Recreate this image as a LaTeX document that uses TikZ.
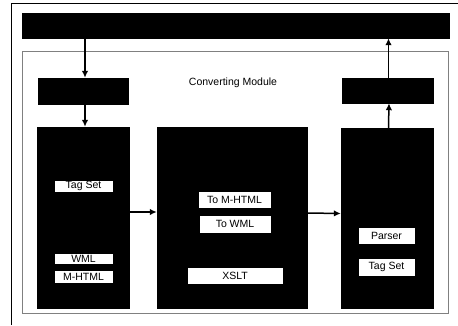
\documentclass[tikz,border=0pt]{standalone}
\usepackage{fontspec}
\setmainfont{Liberation Sans}
\usetikzlibrary{positioning, arrows.meta}

\begin{document}
\begin{tikzpicture}[x=1pt, y=-1pt,
    blk/.style={rectangle, draw=black, fill=black, inner sep=0pt},
    lbl/.style={rectangle, draw=black, fill=white, inner sep=0pt, font=\fontsize{10.5}{10.5}\selectfont},
    arr/.style={-{Latex[length=7pt, width=6.5pt]}, line width=1.5pt}]
            \useasboundingbox (0,0) rectangle (458,325);
            \draw[line width=0.8pt] (11,325) -- (11,3) -- (458,3);
            \draw[gray, line width=0.6pt] (22,51) rectangle (448,313);

            \node[blk, minimum width=427pt, minimum height=25pt] (bar) at (235.5,25.5) {};
            \node[blk, minimum width=90pt, minimum height=26pt] (inbox) at (83,91) {};
            \node[blk, minimum width=91pt, minimum height=25pt] (outbox) at (387.5,90.5) {};
            \node[font=\fontsize{10.5}{10.5}\selectfont] (title) at (233,83) {Converting Module};

            \node[blk, minimum width=92pt, minimum height=181pt] (left) at (83,217.5) {};
            \node[blk, minimum width=150pt, minimum height=181pt] (mid) at (232,217.5) {};
            \node[blk, minimum width=92pt, minimum height=180pt] (right) at (387,218) {};

            \node[lbl, minimum width=59pt, minimum height=12pt] (tag1) at (83.5,186) {Tag Set};
            \node[lbl, minimum width=59pt, minimum height=11pt] (wml) at (83.5,258.5) {WML};
            \node[lbl, minimum width=59pt, minimum height=13pt] (mhtml) at (83.5,276.5) {M-HTML};
            \node[lbl, minimum width=73pt, minimum height=17pt] (tomhtml) at (234.5,199.5) {To M-HTML};
            \node[lbl, minimum width=72pt, minimum height=18pt] (towml) at (235,224) {To WML};
            \node[lbl, minimum width=96pt, minimum height=17pt] (xslt) at (235,275.5) {XSLT};
            \node[lbl, minimum width=57pt, minimum height=17pt] (parser) at (386.5,235.5) {Parser};
            \node[lbl, minimum width=57pt, minimum height=18pt] (tag2) at (386.5,267) {Tag Set};

            \draw[arr] ([xshift=2pt]inbox.north |- bar.south) -- ([xshift=2pt]inbox.north);
            \draw[arr] ([xshift=2pt]inbox.south) -- ([xshift=2pt]left.north);
            \draw[arr] ([yshift=5.5pt]left.east) -- ([yshift=5.5pt]mid.west);
            \draw[arr] ([yshift=4.5pt]mid.east) -- ([yshift=4.5pt]right.west);
            \draw[arr] ([xshift=1.5pt]right.north) -- ([xshift=1.5pt]outbox.south);
            \draw[arr] ([xshift=1pt]outbox.north) -- ([xshift=1pt]outbox.north |- bar.south);
        \end{tikzpicture}
\end{document}
